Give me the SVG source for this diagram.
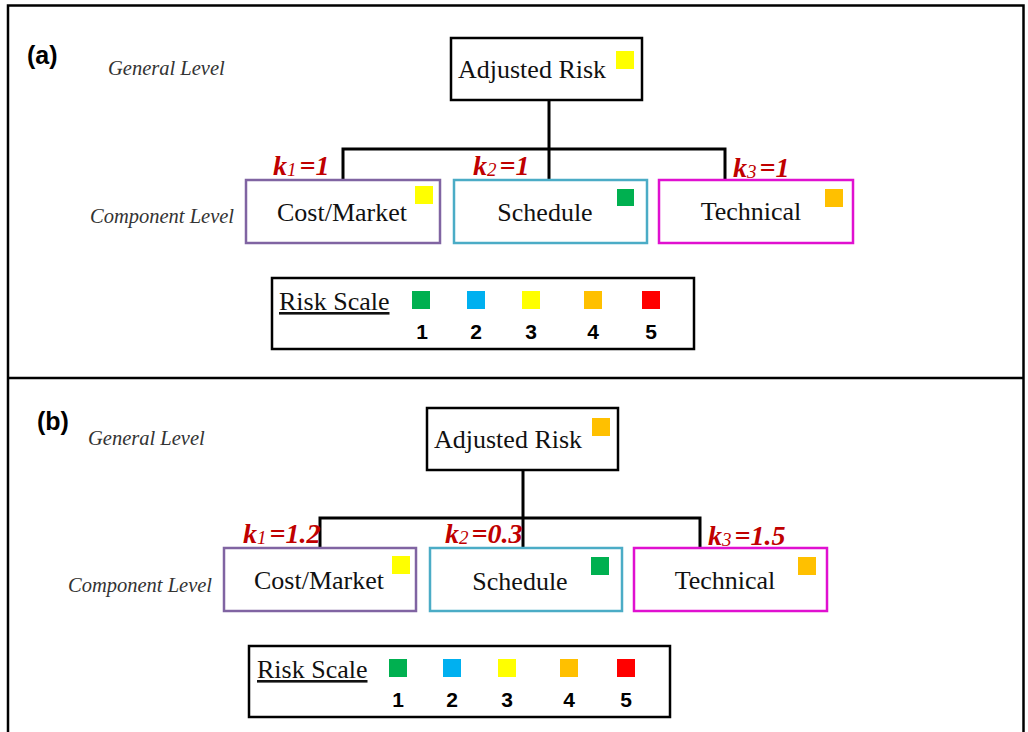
<svg xmlns="http://www.w3.org/2000/svg" width="1028" height="732" viewBox="0 0 1028 732">
<style>
.frame{fill:none;stroke:#000;stroke-width:2.5}
.box{fill:#fff;stroke:#000;stroke-width:2.5}
.cm{fill:#fff;stroke:#8064A2;stroke-width:2.5}
.sc{fill:#fff;stroke:#4BACC6;stroke-width:2.5}
.te{fill:#fff;stroke:#E010D0;stroke-width:2.5}
.conn{fill:none;stroke:#000;stroke-width:3}
.t{font-family:"Liberation Serif","Times New Roman",serif;font-size:26px;fill:#111}
.lvl{font-family:"Liberation Serif","Times New Roman",serif;font-size:20.5px;font-style:italic;fill:#333}
.k{font-family:"Liberation Serif","Times New Roman",serif;font-size:28px;font-style:italic;font-weight:bold;fill:#C00000}
.ks{font-size:19px;font-weight:normal}
.pl{font-family:"Liberation Sans",Arial,sans-serif;font-size:25px;font-weight:bold;fill:#000}
.n{font-family:"Liberation Sans",Arial,sans-serif;font-size:21px;font-weight:bold;fill:#000;text-anchor:middle}
.g{fill:#00B050}.b{fill:#00B0F0}.y{fill:#FFFF00}.o{fill:#FFC000}.r{fill:#FF0000}
</style>
<rect width="1028" height="732" fill="#fff"/>
<g id="frame">
<path class="frame" d="M8,740 V5.5 H1023.5 V740"/>
<line x1="8" y1="378" x2="1023.5" y2="378" stroke="#000" stroke-width="2.5"/>
</g>
<g id="connectors">
<path class="conn" d="M549,100 V149 M343,180 V149 H725 V180 M549,149 V180"/>
<path class="conn" d="M523,470 V518 M320,548 V518 H700 V548 M523,518 V548"/>
</g>
<g id="panel-a">
<text class="pl" x="27" y="64">(a)</text>
<text class="lvl" x="108" y="75">General Level</text>
<text class="lvl" x="90" y="223">Component Level</text>
<g id="a-adjusted">
<rect class="box" x="451" y="38" width="191" height="62"/>
<text class="t" x="458" y="78">Adjusted Risk</text>
<rect class="y" x="616" y="51" width="18" height="18"/>
</g>
<g id="a-cost">
<rect class="cm" x="246" y="180" width="194" height="63"/>
<text class="t" x="342" y="221" text-anchor="middle">Cost/Market</text>
<rect class="y" x="415" y="186" width="18" height="18"/>
<text class="k" x="273" y="175">k<tspan class="ks" dy="1">1</tspan><tspan dx="3" dy="-1">=1</tspan></text>
</g>
<g id="a-schedule">
<rect class="sc" x="454" y="180" width="193" height="63"/>
<text class="t" x="545" y="221" text-anchor="middle">Schedule</text>
<rect class="g" x="617" y="189" width="17" height="17"/>
<text class="k" x="473" y="175">k<tspan class="ks" dy="1">2</tspan><tspan dx="3" dy="-1">=1</tspan></text>
</g>
<g id="a-technical">
<rect class="te" x="659" y="180" width="194" height="63"/>
<text class="t" x="751" y="220" text-anchor="middle">Technical</text>
<rect class="o" x="825" y="189" width="18" height="18"/>
<text class="k" x="733" y="177">k<tspan class="ks" dy="1">3</tspan><tspan dx="3" dy="-1">=1</tspan></text>
</g>
<g id="a-scale">
<rect class="box" x="272" y="278" width="422" height="71"/>
<text class="t" x="279" y="310" text-decoration="underline">Risk Scale</text>
<rect class="g" x="412" y="291" width="18" height="18"/>
<rect class="b" x="467" y="291" width="18" height="18"/>
<rect class="y" x="522" y="291" width="18" height="18"/>
<rect class="o" x="584" y="291" width="18" height="18"/>
<rect class="r" x="642" y="291" width="18" height="18"/>
<text class="n" x="422" y="339">1</text>
<text class="n" x="476" y="339">2</text>
<text class="n" x="531" y="339">3</text>
<text class="n" x="593" y="339">4</text>
<text class="n" x="651" y="339">5</text>
</g>
</g>
<g id="panel-b">
<text class="pl" x="37" y="430">(b)</text>
<text class="lvl" x="88" y="445">General Level</text>
<text class="lvl" x="68" y="592">Component Level</text>
<g id="b-adjusted">
<rect class="box" x="427" y="408" width="191" height="62"/>
<text class="t" x="434" y="448">Adjusted Risk</text>
<rect class="o" x="592" y="418" width="18" height="18"/>
</g>
<g id="b-cost">
<rect class="cm" x="224" y="548" width="192" height="63"/>
<text class="t" x="319" y="589" text-anchor="middle">Cost/Market</text>
<rect class="y" x="392" y="556" width="18" height="18"/>
<text class="k" x="243" y="543">k<tspan class="ks" dy="1">1</tspan><tspan dx="3" dy="-1">=1.2</tspan></text>
</g>
<g id="b-schedule">
<rect class="sc" x="430" y="548" width="192" height="63"/>
<text class="t" x="520" y="590" text-anchor="middle">Schedule</text>
<rect class="g" x="591" y="557" width="18" height="18"/>
<text class="k" x="445" y="543">k<tspan class="ks" dy="1">2</tspan><tspan dx="3" dy="-1">=0.3</tspan></text>
</g>
<g id="b-technical">
<rect class="te" x="634" y="548" width="193" height="63"/>
<text class="t" x="725" y="589" text-anchor="middle">Technical</text>
<rect class="o" x="798" y="557" width="18" height="18"/>
<text class="k" x="708" y="545">k<tspan class="ks" dy="1">3</tspan><tspan dx="3" dy="-1">=1.5</tspan></text>
</g>
<g id="b-scale">
<rect class="box" x="249" y="646" width="421" height="71"/>
<text class="t" x="257" y="678" text-decoration="underline">Risk Scale</text>
<rect class="g" x="389" y="659" width="18" height="18"/>
<rect class="b" x="443" y="659" width="18" height="18"/>
<rect class="y" x="498" y="659" width="18" height="18"/>
<rect class="o" x="560" y="659" width="18" height="18"/>
<rect class="r" x="617" y="659" width="18" height="18"/>
<text class="n" x="398" y="707">1</text>
<text class="n" x="452" y="707">2</text>
<text class="n" x="507" y="707">3</text>
<text class="n" x="569" y="707">4</text>
<text class="n" x="626" y="707">5</text>
</g>
</g>
</svg>
